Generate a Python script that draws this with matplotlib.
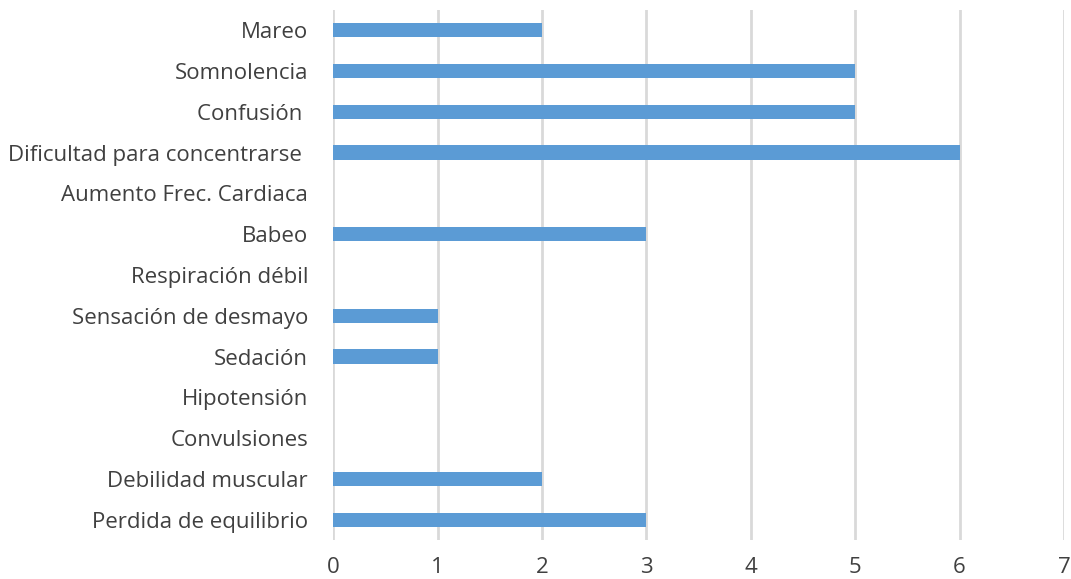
import matplotlib
matplotlib.use("Agg")
import matplotlib.pyplot as plt

# datos (de arriba hacia abajo)
sintomas = ["Mareo", "Somnolencia", "Confusión ", "Dificultad para concentrarse ",
            "Aumento Frec. Cardiaca", "Babeo", "Respiración débil",
            "Sensación de desmayo", "Sedación", "Hipotensión", "Convulsiones",
            "Debilidad muscular", "Perdida de equilibrio"]
casos = [2, 5, 5, 6, 0, 3, 0, 1, 1, 0, 0, 2, 3]
ticks_x = [0, 1, 2, 3, 4, 5, 6, 7]

plt.rcParams['font.family'] = ['Open Sans', 'DejaVu Sans']

fig = plt.figure(figsize=(10.71, 5.79), dpi=100)
ax = fig.add_axes([0.311, 0.067, 0.6825, 0.916])

pos = list(range(len(sintomas)))[::-1]
ax.barh(pos, casos, height=0.35, color="#5B9BD5", zorder=2)

ax.set_xlim(0, 7)
ax.set_ylim(-0.5, len(sintomas) - 0.5)
ax.set_xticks(ticks_x)
ax.set_yticks(pos)
ax.set_yticklabels(sintomas)
ax.grid(axis="x", color="#D9D9D9", linewidth=2, zorder=0)
for s in ax.spines.values():
    s.set_visible(False)
ax.tick_params(axis="both", length=0, labelsize=16, labelcolor="#404040")
ax.tick_params(axis="x", pad=12)
ax.tick_params(axis="y", pad=18)

plt.savefig("out.png", dpi=100)
